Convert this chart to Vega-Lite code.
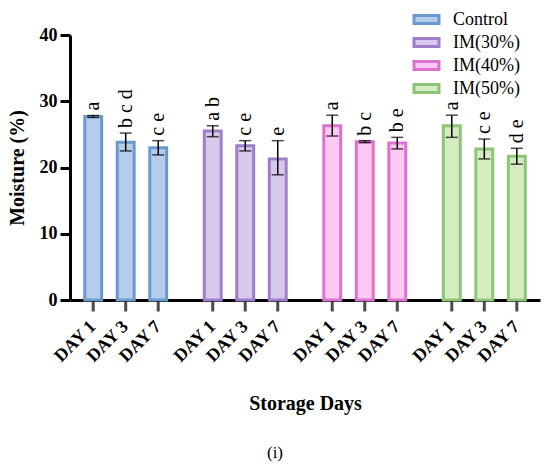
{
  "$schema": "https://vega.github.io/schema/vega-lite/v6.json",
  "description": "Moisture (%) by storage day for control and IM treatments",
  "autosize": "none",
  "width": 470,
  "height": 265,
  "padding": {"left": 70, "top": 35, "right": 10, "bottom": 171},
  "background": "white",
  "title": {
    "text": "(i)",
    "orient": "bottom",
    "anchor": "middle",
    "dx": -30,
    "offset": 32,
    "fontSize": 17,
    "fontWeight": "normal",
    "color": "black"
  },
  "data": {
    "values": [
      {"group": "Control", "day": "DAY 1", "mean": 27.7, "lo": 27.55, "hi": 27.85, "sig": "a"},
      {"group": "Control", "day": "DAY 3", "mean": 23.8, "lo": 22.5, "hi": 25.2, "sig": "b c d"},
      {"group": "Control", "day": "DAY 7", "mean": 23.0, "lo": 21.9, "hi": 24.05, "sig": "c e"},
      {"group": "IM(30%)", "day": "DAY 1", "mean": 25.5, "lo": 24.65, "hi": 26.3, "sig": "a b"},
      {"group": "IM(30%)", "day": "DAY 3", "mean": 23.3, "lo": 22.5, "hi": 24.05, "sig": "c e"},
      {"group": "IM(30%)", "day": "DAY 7", "mean": 21.3, "lo": 18.9, "hi": 24.05, "sig": "e"},
      {"group": "IM(40%)", "day": "DAY 1", "mean": 26.3, "lo": 24.75, "hi": 27.9, "sig": "a"},
      {"group": "IM(40%)", "day": "DAY 3", "mean": 23.9, "lo": 23.75, "hi": 24.05, "sig": "b c"},
      {"group": "IM(40%)", "day": "DAY 7", "mean": 23.7, "lo": 22.8, "hi": 24.55, "sig": "b e"},
      {"group": "IM(50%)", "day": "DAY 1", "mean": 26.3, "lo": 24.55, "hi": 27.9, "sig": "a"},
      {"group": "IM(50%)", "day": "DAY 3", "mean": 22.8, "lo": 21.3, "hi": 24.3, "sig": "c e"},
      {"group": "IM(50%)", "day": "DAY 7", "mean": 21.7, "lo": 20.5, "hi": 22.9, "sig": "d e"}
    ]
  },
  "encoding": {
    "x": {
      "field": "group",
      "type": "nominal",
      "sort": ["Control", "IM(30%)", "IM(40%)", "IM(50%)"],
      "scale": {"paddingInner": 0.184, "paddingOuter": 0.058},
      "axis": {
        "title": "Storage Days",
        "labels": false,
        "ticks": false,
        "domainWidth": 3,
        "domainColor": "black",
        "titleY": 103,
        "titleBaseline": "middle",
        "titleFontSize": 20,
        "titleFontWeight": "bold",
        "titleColor": "black"
      }
    },
    "xOffset": {
      "field": "day",
      "type": "nominal",
      "scale": {"paddingInner": 0.48, "paddingOuter": 0.24}
    }
  },
  "layer": [
    {
      "mark": {"type": "bar", "strokeWidth": 3},
      "encoding": {
        "y": {
          "field": "mean",
          "type": "quantitative",
          "scale": {"domain": [0, 40], "nice": false},
          "axis": {
            "title": "Moisture (%)",
            "values": [0, 10, 20, 30, 40],
            "grid": false,
            "domainWidth": 3,
            "domainColor": "black",
            "tickWidth": 3,
            "tickSize": 10,
            "tickColor": "black",
            "labelFontSize": 18,
            "labelFontWeight": "bold",
            "labelColor": "black",
            "labelPadding": 3,
            "titleFontSize": 20,
            "titleFontWeight": "bold",
            "titleColor": "black",
            "titlePadding": 12
          }
        },
        "fill": {
          "field": "group",
          "type": "nominal",
          "scale": {
            "domain": ["Control", "IM(30%)", "IM(40%)", "IM(50%)"],
            "range": ["#b5cdea", "#d8c9ec", "#fdc9f2", "#d6edc2"]
          },
          "legend": {
            "title": null,
            "orient": "none",
            "legendX": 345,
            "legendY": -27,
            "symbolType": "M-1.25,-0.4H1.25V0.4H-1.25Z",
            "symbolSize": 400,
            "symbolStrokeWidth": 3,
            "symbolOpacity": 1,
            "labelFontSize": 18,
            "labelColor": "black",
            "labelOffset": 15,
            "rowPadding": 1
          }
        },
        "stroke": {
          "field": "group",
          "type": "nominal",
          "scale": {
            "domain": ["Control", "IM(30%)", "IM(40%)", "IM(50%)"],
            "range": ["#6b98cd", "#9e7ec9", "#dc72ce", "#8dc476"]
          },
          "legend": {
            "title": null,
            "orient": "none",
            "legendX": 345,
            "legendY": -27,
            "symbolType": "M-1.25,-0.4H1.25V0.4H-1.25Z",
            "symbolSize": 400,
            "symbolStrokeWidth": 3,
            "symbolOpacity": 1,
            "labelFontSize": 18,
            "labelColor": "black",
            "labelOffset": 15,
            "rowPadding": 1
          }
        }
      }
    },
    {
      "mark": {"type": "rule", "color": "black", "strokeWidth": 1.5},
      "encoding": {
        "y": {"field": "lo", "type": "quantitative"},
        "y2": {"field": "hi"}
      }
    },
    {
      "mark": {"type": "tick", "color": "black", "size": 12, "thickness": 1.5},
      "encoding": {"y": {"field": "lo", "type": "quantitative"}}
    },
    {
      "mark": {"type": "tick", "color": "black", "size": 12, "thickness": 1.5},
      "encoding": {"y": {"field": "hi", "type": "quantitative"}}
    },
    {
      "mark": {
        "type": "text",
        "angle": 270,
        "align": "left",
        "baseline": "middle",
        "yOffset": -5,
        "fontSize": 20,
        "color": "black"
      },
      "encoding": {
        "y": {"field": "hi", "type": "quantitative"},
        "text": {"field": "sig"}
      }
    },
    {
      "mark": {
        "type": "tick",
        "orient": "vertical",
        "color": "black",
        "size": 10,
        "thickness": 3,
        "yOffset": 6.5
      },
      "encoding": {"y": {"datum": 0}}
    },
    {
      "mark": {
        "type": "text",
        "angle": 315,
        "align": "right",
        "baseline": "middle",
        "yOffset": 24,
        "fontSize": 18,
        "fontWeight": "bold",
        "color": "black"
      },
      "encoding": {
        "y": {"datum": 0},
        "text": {"field": "day"}
      }
    }
  ],
  "config": {
    "font": "Liberation Serif",
    "text": {"font": "Liberation Serif"},
    "axis": {"labelFont": "Liberation Serif", "titleFont": "Liberation Serif"},
    "legend": {"labelFont": "Liberation Serif"},
    "title": {"font": "Liberation Serif"},
    "view": {"stroke": null}
  }
}
